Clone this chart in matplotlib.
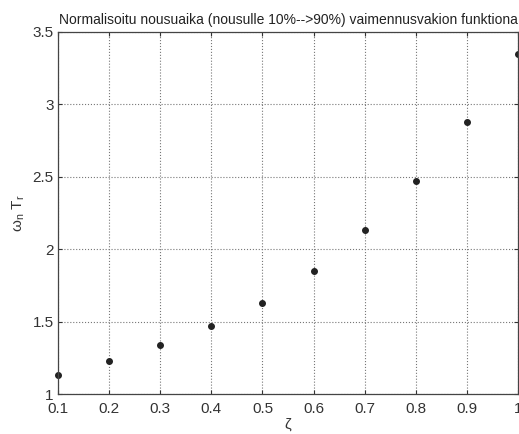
import numpy as np
import matplotlib.pyplot as plt

# damping ratio and normalised rise time (10% -> 90%)
zeta = [0.1, 0.2, 0.3, 0.4, 0.5, 0.6, 0.7, 0.8, 0.9, 1.0]
wn_tr = [1.13, 1.23, 1.34, 1.47, 1.63, 1.85, 2.13, 2.47, 2.88, 3.35]
xticks = [0.1, 0.2, 0.3, 0.4, 0.5, 0.6, 0.7, 0.8, 0.9, 1.0]
xticklabels = ['0.1', '0.2', '0.3', '0.4', '0.5', '0.6', '0.7', '0.8', '0.9', '1']
yticks = [1, 1.5, 2, 2.5, 3, 3.5]
yticklabels = ['1', '1.5', '2', '2.5', '3', '3.5']

plt.rcParams['font.family'] = ['Liberation Sans', 'DejaVu Sans']
plt.rcParams['mathtext.fontset'] = 'custom'
plt.rcParams['mathtext.rm'] = 'Liberation Sans'

fig = plt.figure(figsize=(5.19, 4.34), dpi=100)
ax = fig.add_axes([58/519, 40/434, 460/519, 362/434])

ax.plot(zeta, wn_tr, 'o', color='#222222', markersize=4, clip_on=False)

ax.set_xlim(0.1, 1.0)
ax.set_ylim(1, 3.5)
ax.set_xticks(xticks)
ax.set_xticklabels(xticklabels)
ax.set_yticks(yticks)
ax.set_yticklabels(yticklabels)
ax.tick_params(direction='in', top=True, right=True, labelsize=11, length=3, colors='#333333')
ax.tick_params(axis='x', pad=6)
ax.tick_params(axis='y', pad=3)
ax.grid(True, linestyle=':', color='#777777', linewidth=0.8)
for s in ax.spines.values():
    s.set_color('#444444')
    s.set_linewidth(0.9)

ax.set_xlabel('ζ', fontsize=11, color='#333333', labelpad=1)
ax.set_ylabel(r'ω$_\mathrm{n}$ T$_\mathrm{r}$', fontsize=11, color='#333333', labelpad=4)
ax.set_title('Normalisoitu nousuaika (nousulle 10%-->90%) vaimennusvakion funktiona',
             fontsize=10, color='#222222', pad=6)

fig.savefig('out.png', dpi=100)
